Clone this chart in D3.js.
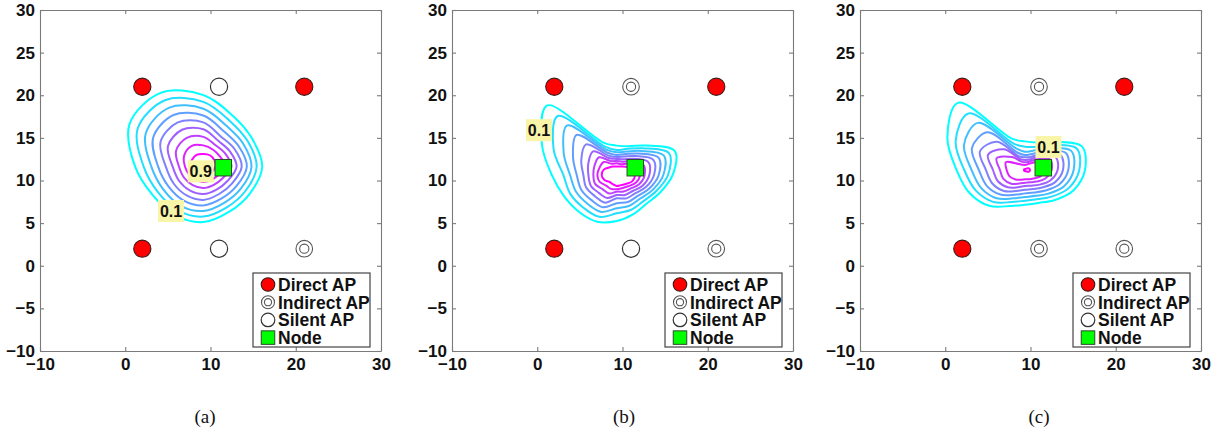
<!DOCTYPE html>
<html><head><meta charset="utf-8">
<script src="https://cdn.jsdelivr.net/npm/d3@7"></script>
<style>body{margin:0;background:#fff}</style>
</head><body><svg id="chart" width="1221" height="436"></svg>
<script>
// ---------------- data ----------------
const xTicks = [-10, 0, 10, 20, 30];
const yTicks = [-10, -5, 0, 5, 10, 15, 20, 25, 30];
const captions = ["(a)", "(b)", "(c)"];
const legendNames = ["Direct AP", "Indirect AP", "Silent AP", "Node"];
const legendTypes = ["direct", "indirect", "silent", "node"];
const contourLevels = [0.1, 0.2, 0.3, 0.4, 0.5, 0.6, 0.7, 0.8, 0.9];

const apX = [2, 11, 21, 2, 11, 21];
const apY = [21, 21, 21, 2, 2, 2];
const apTypesA = ["direct", "silent", "direct", "direct", "silent", "indirect"];
const apTypesB = ["direct", "indirect", "direct", "direct", "silent", "indirect"];
const apTypesC = ["direct", "indirect", "direct", "direct", "indirect", "indirect"];
const nodeX = 11.5, nodeY = 11.5;

// contour rings: centre + radius along each ray (data units), one row per level 0.1..0.9
const centerA = [9.16, 11.62];
const anglesA = [0, 30, 60, 90, 120, 150, 180, 210, 240, 270, 300, 330];
const radiiA = [
  [6.9, 6.6, 6.9, 8.4, 10.0, 10.0, 8.0, 6.8, 6.6, 6.5, 6.1, 6.3],
  [6.25, 6.0, 6.2, 7.6, 9.0, 8.9, 7.0, 6.1, 5.95, 5.85, 5.5, 5.7],
  [5.65, 5.4, 5.5, 6.8, 8.0, 7.8, 6.1, 5.4, 5.3, 5.2, 4.9, 5.1],
  [5.1, 4.8, 4.8, 6.0, 7.0, 6.8, 5.3, 4.7, 4.6, 4.55, 4.3, 4.5],
  [4.5, 4.2, 4.1, 5.2, 6.0, 5.8, 4.4, 4.0, 3.9, 3.9, 3.7, 3.9],
  [3.9, 3.6, 3.5, 4.4, 5.0, 4.8, 3.6, 3.3, 3.2, 3.2, 3.1, 3.3],
  [3.3, 3.0, 2.9, 3.5, 3.9, 3.7, 2.85, 2.6, 2.5, 2.5, 2.45, 2.65],
  [2.65, 2.3, 2.3, 2.5, 2.8, 2.6, 2.15, 1.9, 1.8, 1.8, 1.8, 2.0],
  [1.4, 1.5, 1.55, 1.5, 1.6, 1.55, 1.55, 1.15, 1.1, 1.1, 1.1, 1.2]
];

const centerB = [9.32, 10.65];
const anglesB = [0, 22.5, 45, 67.5, 90, 112.5, 135, 157.5, 180, 202.5, 225, 247.5, 270, 292.5, 315, 337.5];
const radiiB = [
  [6.57, 7.35, 4.89, 3.64, 3.44, 4.11, 11.53, 9.50, 7.62, 6.65, 6.18, 5.94, 5.40, 5.00, 4.85, 5.47],
  [6.02, 6.65, 4.42, 3.32, 2.93, 3.60, 9.78, 8.02, 6.26, 5.87, 5.47, 5.32, 4.50, 4.42, 4.38, 5.00],
  [5.47, 5.98, 3.99, 2.97, 2.66, 3.21, 8.21, 6.73, 5.47, 5.16, 4.81, 4.69, 3.91, 3.91, 3.91, 4.57],
  [4.93, 5.32, 3.56, 2.66, 2.35, 2.82, 6.65, 5.55, 4.69, 4.50, 4.18, 4.11, 3.32, 3.44, 3.48, 4.14],
  [4.38, 4.65, 3.13, 2.35, 2.11, 2.46, 5.08, 4.50, 3.91, 3.87, 3.56, 3.52, 2.74, 2.97, 3.05, 3.71],
  [3.83, 3.99, 2.70, 1.99, 1.88, 2.11, 3.91, 3.60, 3.32, 3.28, 2.97, 2.93, 2.35, 2.54, 2.66, 3.28],
  [3.28, 3.32, 2.27, 1.68, 1.64, 1.76, 2.93, 2.82, 2.74, 2.74, 2.35, 2.35, 1.96, 2.11, 2.27, 2.85],
  [2.74, 2.66, 1.84, 1.37, 1.37, 1.41, 2.15, 2.19, 2.27, 2.15, 1.76, 1.76, 1.68, 1.68, 1.88, 2.42],
  [2.15, 1.96, 1.37, 1.06, 0.98, 1.06, 1.25, 1.64, 1.76, 1.56, 1.17, 1.17, 1.29, 1.29, 1.49, 1.96]
];

const centerC = [9.35, 11.23];
const anglesC = [0, 22.5, 45, 67.5, 90, 112.5, 135, 157.5, 180, 202.5, 225, 247.5, 270, 292.5, 315, 337.5];
const radiiC = [
  [7.04, 7.23, 4.69, 3.48, 3.36, 3.99, 11.14, 9.85, 8.02, 7.04, 5.94, 4.57, 4.07, 4.18, 4.97, 6.18],
  [6.37, 6.57, 4.11, 2.93, 2.74, 3.32, 9.38, 8.80, 7.12, 6.26, 5.28, 4.07, 3.60, 3.71, 4.42, 5.55],
  [5.71, 5.87, 3.60, 2.46, 2.15, 2.74, 7.82, 7.74, 6.26, 5.55, 4.69, 3.60, 3.17, 3.28, 3.91, 4.97],
  [5.08, 5.20, 3.13, 2.03, 1.76, 2.19, 6.26, 6.73, 5.40, 4.85, 4.07, 3.13, 2.74, 2.85, 3.40, 4.38],
  [4.46, 4.54, 2.66, 1.64, 1.49, 1.72, 4.69, 5.71, 4.57, 4.14, 3.48, 2.66, 2.31, 2.42, 2.89, 3.79],
  [3.83, 3.91, 2.19, 1.33, 1.17, 1.37, 3.44, 4.69, 3.75, 3.44, 2.85, 2.19, 1.88, 1.99, 2.42, 3.21],
  [3.13, 3.21, 1.72, 1.02, 0.90, 1.06, 2.15, 3.60, 2.93, 2.74, 2.27, 1.72, 1.49, 1.56, 1.92, 2.58],
  [2.35, 2.42, 1.17, 0.70, 0.59, 0.66, 0.98, 2.42, 2.15, 1.96, 1.56, 1.25, 1.09, 1.17, 1.41, 1.96],
  [0.59, 0.51, 0.23, 0.12, 0.12, 0.12, 0.12, 0.12, 0.12, 0.12, 0.12, 0.12, 0.12, 0.12, 0.23, 0.51]
];

// contour labels
const labelTextA = ["0.9", "0.1"], labelXA = [8.85, 5.37], labelYA = [11.08, 6.42];
const labelTextB = ["0.1"], labelXB = [0.2], labelYB = [15.9];
const labelTextC = ["0.1"], labelXC = [12.11], labelYC = [13.93];

// ---------------- layout ----------------
const panelLeft = [40, 452, 860];
const panelTop = 10, panelSize = 341;
const captionX = [205, 624, 1039], captionY = 423;
const FONT = "'Liberation Sans', Arial, Helvetica, sans-serif";
const AXIS_COLOR = "#7a7a7a";

const panels = [
  {center: centerA, angles: anglesA, radii: radiiA, types: apTypesA, lt: labelTextA, lx: labelXA, ly: labelYA},
  {center: centerB, angles: anglesB, radii: radiiB, types: apTypesB, lt: labelTextB, lx: labelXB, ly: labelYB},
  {center: centerC, angles: anglesC, radii: radiiC, types: apTypesC, lt: labelTextC, lx: labelXC, ly: labelYC}
];

const svg = d3.select("#chart");
svg.append("rect").attr("width", 1221).attr("height", 436).attr("fill", "#fff");
const levelColor = d3.scaleLinear().domain([contourLevels[0], contourLevels[contourLevels.length - 1]])
  .range(["#00ffff", "#ff00ff"]).interpolate(d3.interpolateRgb);

function drawMarker(g, type, cx, cy, big) {
  const r = big ? 8.6 : 6.8;
  if (type === "direct") {
    g.append("circle").attr("cx", cx).attr("cy", cy).attr("r", r)
      .attr("fill", "#ff0000").attr("stroke", "#3a1a1a").attr("stroke-width", 1.1);
  } else if (type === "silent") {
    g.append("circle").attr("cx", cx).attr("cy", cy).attr("r", r)
      .attr("fill", "#fff").attr("stroke", "#333").attr("stroke-width", 1.2);
  } else if (type === "indirect") {
    g.append("circle").attr("cx", cx).attr("cy", cy).attr("r", r - 0.3)
      .attr("fill", "#fff").attr("stroke", "#555").attr("stroke-width", 1.1);
    g.append("circle").attr("cx", cx).attr("cy", cy).attr("r", big ? 4.6 : 3.6)
      .attr("fill", "none").attr("stroke", "#555").attr("stroke-width", 1.1);
  } else {
    const s = big ? 16.5 : 13.5;
    g.append("rect").attr("x", cx - s / 2).attr("y", cy - s / 2).attr("width", s).attr("height", s)
      .attr("fill", "#00ff00").attr("stroke", "#2a4a2a").attr("stroke-width", 1);
  }
}

panels.forEach((p, pi) => {
  const x = d3.scaleLinear().domain([-10, 30]).range([panelLeft[pi], panelLeft[pi] + panelSize]);
  const y = d3.scaleLinear().domain([-10, 30]).range([panelTop + panelSize, panelTop]);
  const g = svg.append("g");

  // axes (box with inward ticks)
  const bottom = g.append("g").attr("transform", `translate(0,${y(-10)})`)
    .call(d3.axisBottom(x).tickValues(xTicks).tickSizeInner(-4).tickSizeOuter(0).tickPadding(7));
  const top = g.append("g").attr("transform", `translate(0,${y(30)})`)
    .call(d3.axisTop(x).tickValues(xTicks).tickSizeInner(-4).tickSizeOuter(0).tickFormat(""));
  const left = g.append("g").attr("transform", `translate(${x(-10)},0)`)
    .call(d3.axisLeft(y).tickValues(yTicks).tickSizeInner(-4).tickSizeOuter(0).tickPadding(5));
  const right = g.append("g").attr("transform", `translate(${x(30)},0)`)
    .call(d3.axisRight(y).tickValues(yTicks).tickSizeInner(-4).tickSizeOuter(0).tickFormat(""));
  [bottom, top, left, right].forEach(a => {
    a.selectAll("path,line").attr("stroke", AXIS_COLOR).attr("stroke-width", 1.1);
    a.selectAll("text").attr("fill", "#111").attr("font-family", FONT)
      .attr("font-size", 17).attr("font-weight", "bold");
  });

  // contours
  const line = d3.line().x(d => x(d[0])).y(d => y(d[1])).curve(d3.curveCatmullRomClosed.alpha(0.5));
  p.radii.forEach((row, li) => {
    const pts = p.angles.map((a, k) => [
      p.center[0] + row[k] * Math.cos(a * Math.PI / 180),
      p.center[1] + row[k] * Math.sin(a * Math.PI / 180)
    ]);
    g.append("path").attr("d", line(pts)).attr("fill", "none")
      .attr("stroke", levelColor(contourLevels[li])).attr("stroke-width", 2)
      .attr("stroke-linejoin", "round");
  });

  // contour labels
  p.lt.forEach((t, k) => {
    const cx = x(p.lx[k]), cy = y(p.ly[k]);
    g.append("rect").attr("x", cx - 13).attr("y", cy - 11).attr("width", 26).attr("height", 22)
      .attr("fill", "#f9f5a8");
    g.append("text").attr("x", cx).attr("y", cy).attr("dy", "0.36em").attr("text-anchor", "middle")
      .attr("font-family", FONT).attr("font-weight", "bold").attr("font-size", 16).attr("fill", "#111").text(t);
  });

  // access points
  apX.forEach((ax, k) => drawMarker(g, p.types[k], x(ax), y(apY[k]), true));
  // node
  drawMarker(g, "node", x(nodeX), y(nodeY), true);

  // legend
  const lgX = x(30) - 11 - 117, lgY = y(-10) - 4 - 74;
  g.append("rect").attr("x", lgX).attr("y", lgY).attr("width", 117).attr("height", 74)
    .attr("fill", "#fff").attr("stroke", "#444").attr("stroke-width", 1.2);
  legendNames.forEach((name, k) => {
    const ry = lgY + 11.5 + k * 17.7;
    drawMarker(g, legendTypes[k], lgX + 15, ry, false);
    g.append("text").attr("x", lgX + 25).attr("y", ry).attr("dy", "0.36em")
      .attr("font-family", FONT).attr("font-weight", "bold").attr("font-size", 17.5)
      .attr("fill", "#111").text(name);
  });

  // caption
  svg.append("text").attr("x", captionX[pi]).attr("y", captionY).attr("text-anchor", "middle")
    .attr("font-family", "'Liberation Serif', 'Times New Roman', serif").attr("font-size", 19)
    .attr("fill", "#111").text(captions[pi]);
});
</script>
</body></html>
